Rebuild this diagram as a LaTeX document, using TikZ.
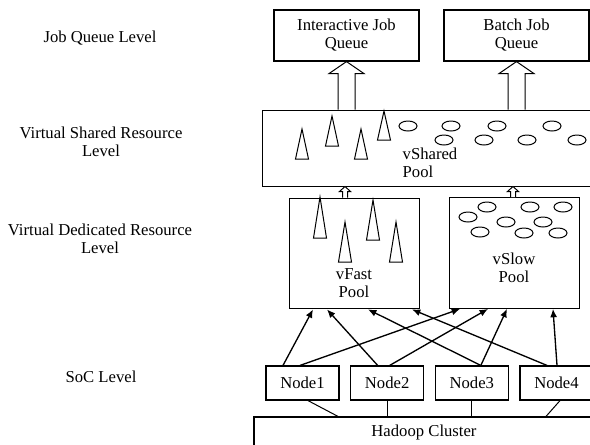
\documentclass[tikz,border=0pt]{standalone}
\usepackage{fontspec}
\setmainfont{Liberation Serif}
\usetikzlibrary{
    arrows,
    arrows.meta,
    calc,
    chains,
    positioning,
    shapes,
}
\newcommand{\lvlfont}{\fontsize{10}{10.8}\selectfont}
\tikzstyle{queue}=[draw,rectangle,line width=.7pt,minimum width=87pt,minimum height=30.6pt,align=center,inner sep=0pt,font=\lvlfont]
\tikzstyle{pool}=[draw,rectangle,line width=.6pt,minimum width=78pt,minimum height=66.5pt]
\tikzstyle{soc}=[draw,rectangle,line width=.7pt,on chain,minimum width=43.8pt,minimum height=20.4pt,inner sep=0pt,font=\lvlfont]
\tikzstyle{level}=[align=center,font=\lvlfont]
\tikzstyle{label}=[align=left,font=\lvlfont]
\tikzset{
    >={Latex[length=5pt,width=4.2pt]}
}
% hollow block arrow: foot, tip, half shaft, half head, head length
\newcommand{\UpArrow}[5]{%
    \draw[fill=white,line width=.6pt] ($(#1)+(-#3,0)$) -- ($(#2)+(-#3,#5)$) -- ($(#2)+(-#4,#5)$) -- (#2)
        -- ($(#2)+(#4,#5)$) -- ($(#2)+(#3,#5)$) -- ($(#1)+(#3,0)$);
}
\newcommand{\Cone}[3]{%
    \draw[line width=.6pt] (#1-6.5,#3) -- (#1,#2) -- (#1+6.5,#3) -- cycle;
}
\newcommand{\Bubble}[2]{%
    \draw[line width=.6pt] (#1,#2) ellipse [x radius=5.4pt,y radius=3pt];
}

\begin{document}
\begin{tikzpicture}[x=0.6pt,y=-0.6pt]
    \useasboundingbox (0,0) rectangle (590,444);
    \clip (0,0) rectangle (590,444);

    % Levels
    \node[level] (lq) at (100,38) {Job Queue Level};
    \node[level] (ls) at (101,142) {Virtual Shared Resource\\Level};
    \node[level] (ld) at (100,239) {Virtual Dedicated Resource\\Level};
    \node[level] (lc) at (101,377) {SoC Level};

    % Queues
    \node[queue] (Interactive) at (346.5,35.5) {Interactive Job\\Queue};
    \node[queue] (Batch) at (516.5,35.5) {Batch Job\\Queue};

    % Pools
    \node[draw,rectangle,line width=.6pt,minimum width=202.8pt,minimum height=45.6pt] (vShared) at (431,148) {};
    \node[pool] (vFast) at (354,253.5) {};
    \node[pool] (vSlow) at (514.5,253) {};
    \node[label] (sharedtext) at (430,163) {vShared\\Pool};
    \node[level] (fasttext) at (354,283) {vFast\\Pool};
    \node[level] (slowtext) at (514,268) {vSlow\\Pool};

    \Cone{302}{129}{159}
    \Cone{332}{116}{146}
    \Cone{361}{129}{159}
    \Cone{384}{111}{140}
    \Bubble{408}{126}
    \Bubble{451}{126}
    \Bubble{497}{126}
    \Bubble{552}{126}
    \Bubble{444}{140}
    \Bubble{484}{140}
    \Bubble{527}{140}
    \Bubble{577}{140}

    \Cone{320}{197}{238}
    \Cone{345}{222}{262}
    \Cone{373}{200}{240}
    \Cone{396}{222}{262}
    \Bubble{487}{207}
    \Bubble{530}{207}
    \Bubble{563}{207}
    \Bubble{468}{217}
    \Bubble{506}{222}
    \Bubble{543}{222}
    \Bubble{480}{232}
    \Bubble{524}{233}
    \Bubble{558}{233}

    % Block arrows
    \UpArrow{vShared.north -| Interactive}{Interactive.south}{8.5}{17.5}{12}
    \UpArrow{vShared.north -| Batch}{Batch.south}{8.5}{17.5}{12}
    \coordinate (fastfoot) at ($(vFast.north)+(-9,0)$);
    \coordinate (slowfoot) at ($(vSlow.north)+(-1.5,0)$);
    \UpArrow{fastfoot}{vShared.south -| fastfoot}{2.5}{5.5}{5}
    \UpArrow{slowfoot}{vShared.south -| slowfoot}{2.5}{5.5}{5}

    % SoC
    \begin{scope}[start chain=going right,node distance=6.3pt]
        \node[soc] (Node1) at (302.5,383) {Node1};
        \node[soc] (Node2) {Node2};
        \node[soc] (Node3) {Node3};
        \node[soc] (Node4) {Node4};
    \end{scope}
    \node[draw,rectangle,line width=.7pt,minimum width=204pt,minimum height=18pt,font=\lvlfont] (Hadoop) at (424,432) {Hadoop Cluster};

    \draw[line width=.6pt] ($(Node1.south)+(5.5,0)$) -- ($(Node1.south |- Hadoop.north)+(35.5,0)$);
    \draw[line width=.6pt] (Node2.south) -- (Node2.south |- Hadoop.north);
    \draw[line width=.6pt] (Node3.south) -- (Node3.south |- Hadoop.north);
    \draw[line width=.6pt] ($(Node4.south)+(3.5,0)$) -- ($(Node4.south |- Hadoop.north)+(-10.5,0)$);

    \draw[->,thick] ($(Node1.north)+(-19.5,0)$) -- ($(vFast.south)+(-41,0)$);
    \draw[->,thick] ($(Node1.north)+(-2.5,0)$) -- ($(vSlow.south)+(-54.5,0)$);
    \draw[->,thick] ($(Node2.north)+(-9.5,0)$) -- ($(vFast.south)+(-27,0)$);
    \draw[->,thick] ($(Node2.north)+(2.5,0)$) -- ($(vSlow.south)+(-26.5,0)$);
    \draw[->,thick] ($(Node3.north)+(9,0)$) -- ($(vFast.south)+(14,0)$);
    \draw[->,thick] ($(Node3.north)+(9,0)$) -- ($(vSlow.south)+(-7.5,0)$);
    \draw[->,thick] ($(Node4.north)+(-9.5,0)$) -- ($(vFast.south)+(58,0)$);
    \draw[->,thick] ($(Node4.north)+(0.5,0)$) -- ($(vSlow.south)+(38.5,0)$);
\end{tikzpicture}
\end{document}
